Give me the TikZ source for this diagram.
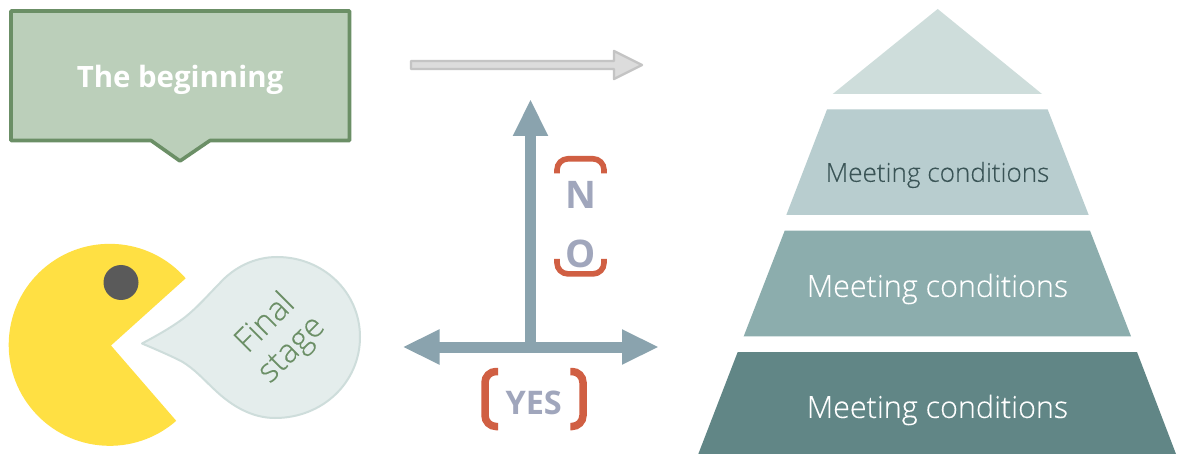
\documentclass[tikz,border=0pt]{standalone}
\usepackage{fontspec}
\setmainfont{Open Sans}
\newfontfamily\lightfont[FakeBold=0.2]{Open Sans Light}
\usetikzlibrary{arrows.meta,calc}
\definecolor{boxfill}{HTML}{BBCFBA}
\definecolor{boxline}{HTML}{6B8F66}
\definecolor{pacy}{HTML}{FFE043}
\definecolor{eyec}{HTML}{5A5A5A}
\definecolor{bubf}{HTML}{E4EDEC}
\definecolor{bubl}{HTML}{CEDDDB}
\definecolor{greyf}{HTML}{DCDCDC}
\definecolor{greyl}{HTML}{C4C4C4}
\definecolor{bluea}{HTML}{8AA3AE}
\definecolor{brk}{HTML}{D05F43}
\definecolor{lab}{HTML}{A0A6BC}
\definecolor{pa}{HTML}{CEDDDB}
\definecolor{pb}{HTML}{B8CDCF}
\definecolor{pc}{HTML}{8CADAD}
\definecolor{pd}{HTML}{618686}
\definecolor{dtext}{HTML}{3A5456}
\tikzset{
  px/.style={x=1pt,y=-1pt},
  blockarrow/.style={draw=bluea,line width=11pt,-{Triangle[length=37pt,width=32.5pt]}},
  bracket/.style={draw=brk,line cap=butt,rounded corners=11pt},
  plabel/.style={font=\lightfont\fontsize{30.5}{36}\selectfont,text=white,inner sep=0pt},
  nolabel/.style={font=\bfseries\fontsize{38}{44}\selectfont,text=lab,inner sep=0pt},
}
\begin{document}
\begin{tikzpicture}[px]
\useasboundingbox (0,0) rectangle (1178,454);
\fill[white] (0,0) rectangle (1178,454);
% callout
\draw[fill=boxfill,draw=boxline,line width=3.6pt,line join=round]
  (11,11) -- (349.5,11) -- (349.5,140.5) -- (210,140.5) -- (180,161) -- (151,140.5) -- (11,140.5) -- cycle;
\node[font=\bfseries\fontsize{29.4}{34}\selectfont,text=white,inner sep=0pt] (begin) at (180,80) {The beginning};
% pacman
\fill[pacy] (111,345.5) -- (185.7,278.3) arc[start angle=41.2,delta angle=270,radius=101pt] -- cycle;
\fill[eyec] (121,282.5) circle[radius=17.5pt];
% bubble
\draw[fill=bubf,draw=bubl,line width=2pt,line join=round]
  (142,343.5) .. controls (158,335) and (172,327) .. (184,318)
  .. controls (198,307) and (208,295) .. (219,284)
  .. controls (234,267) and (255,257) .. (277,257)
  .. controls (323,257) and (360,292) .. (360,337)
  .. controls (360,382) and (323,418) .. (275,418)
  .. controls (252,418) and (232,406) .. (216,391)
  .. controls (205,381) and (195,369) .. (181,361)
  .. controls (169,355) and (155,349) .. (142,343.5) -- cycle;
\node[rotate=45,font=\lightfont\fontsize{33}{37}\selectfont,text=boxline,inner sep=0pt,align=center] (final) at (279,337) {Final\\stage};
% grey arrow
\coordinate (gs) at (411,65);
\coordinate (gt) at (642,65);
\draw[fill=greyf,draw=greyl,line width=2.4pt,line join=round]
  ($(gs)+(0,-4)$) -- ($(gs)+(203,-4)$) -- ($(gs)+(203,-14)$) -- (gt) -- ($(gs)+(203,14)$) -- ($(gs)+(203,4)$) -- ($(gs)+(0,4)$) -- cycle;
% blue arrows
\coordinate (jn) at (530.5,347);
\coordinate (upt) at (530.5,99);
\coordinate (lt) at (402.5,347);
\coordinate (rt) at (659,347);
\draw[blockarrow] (jn) -- (upt);
\draw[blockarrow] (jn) -- (lt);
\draw[blockarrow] (jn) -- (rt);
% brackets NO
\draw[bracket,line width=5.6pt] (557,173.3) -- (557,158.8) -- (604,158.8) -- (604,173.3);
\draw[bracket,line width=5.6pt] (557,259) -- (557,273.9) -- (604,273.9) -- (604,259);
\node[nolabel] (n) at (581,194.5) {N};
\node[nolabel] (o) at (581,254) {O};
% brackets YES
\draw[bracket,line width=7.5pt] (498,371.5) -- (485,371.5) -- (485,426.5) -- (498,426.5);
\draw[bracket,line width=7.5pt] (570.3,371.5) -- (583,371.5) -- (583,426.5) -- (570.3,426.5);
\node[font=\bfseries\fontsize{32.5}{38}\selectfont,text=lab,inner sep=0pt] (yes) at (533.7,403) {YES};
% pyramid
\fill[pa] (937.7,9) -- (1042,94) -- (832.7,94) -- cycle;
\fill[pb] (827,109.5) -- (1047.7,109.5) -- (1088.7,215) -- (786.3,215) -- cycle;
\fill[pc] (784.7,230.7) -- (1090,230.7) -- (1131,336.3) -- (743.7,336.3) -- cycle;
\fill[pd] (737.7,352) -- (1137,352) -- (1176,454) -- (698.3,454) -- cycle;
\node[plabel,text=dtext,font=\lightfont\fontsize{26.1}{30}\selectfont] (m1) at (937.5,175) {Meeting conditions};
\node[plabel] (m2) at (937.5,289) {Meeting conditions};
\node[plabel] (m3) at (937.5,410) {Meeting conditions};
\end{tikzpicture}
\end{document}
